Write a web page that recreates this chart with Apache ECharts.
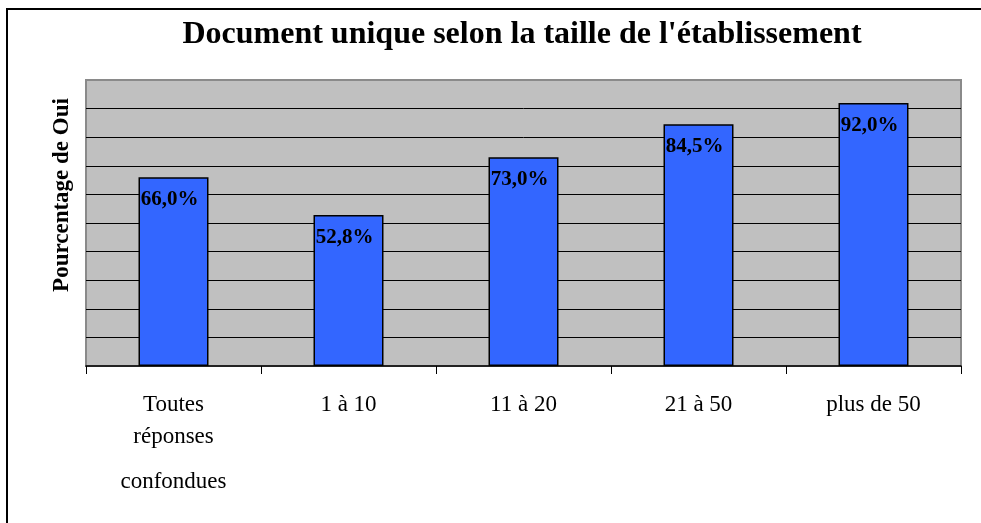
<!DOCTYPE html>
<html>
<head>
<meta charset="utf-8">
<script src="https://cdn.jsdelivr.net/npm/echarts@6/dist/echarts.min.js"></script>
<style>
html,body{margin:0;padding:0;background:#fff;}
#chart{width:981px;height:523px;}
</style>
</head>
<body>
<div id="chart"></div>
<script>
var titleText = "Document unique selon la taille de l'établissement";
var yAxisName = "Pourcentage de Oui";
var categories = ["Toutes\nréponses\nconfondues", "1 à 10", "11 à 20", "21 à 50", "plus de 50"];
var values = [66.0, 52.8, 73.0, 84.5, 92.0];

var serif = '"Liberation Serif", "Times New Roman", "DejaVu Serif", serif';
var chart = echarts.init(document.getElementById('chart'));
chart.setOption({
  backgroundColor: '#ffffff',
  animation: false,
  title: {
    text: titleText,
    left: 517,
    textAlign: 'center',
    top: 14,
    textStyle: { fontFamily: serif, fontWeight: 'bold', fontSize: 32, color: '#000' }
  },
  graphic: [{
    type: 'rect',
    shape: { x: 7, y: 9, width: 1100, height: 700 },
    style: { fill: 'none', stroke: '#000', lineWidth: 2 },
    silent: true,
    z: -1
  }, {
    type: 'text',
    x: 62,
    y: 195,
    rotation: Math.PI / 2,
    style: {
      text: yAxisName,
      fontFamily: serif,
      fontWeight: 'bold',
      fontSize: 23,
      fill: '#000',
      align: 'center',
      verticalAlign: 'middle'
    },
    silent: true
  }],
  grid: {
    left: 86, top: 80, right: 20, bottom: 157,
    show: true,
    backgroundColor: '#C0C0C0',
    borderColor: '#8a8a8a',
    borderWidth: 2
  },
  xAxis: {
    type: 'category',
    data: categories,
    axisLine: { show: true, lineStyle: { color: '#000', width: 1.5 } },
    axisTick: { show: true, length: 8, lineStyle: { color: '#000' } },
    axisLabel: {
      margin: 23,
      interval: 0,
      color: '#000',
      fontFamily: serif,
      fontSize: 23,
      formatter: function (v) {
        var parts = v.split('\n');
        var st = ['a', 'b', 'c'];
        return parts.map(function (p, i) { return '{' + st[i] + '|' + p + '}'; }).join('\n');
      },
      rich: {
        a: { fontFamily: serif, fontSize: 23, color: '#000', lineHeight: 32 },
        b: { fontFamily: serif, fontSize: 23, color: '#000', lineHeight: 32 },
        c: { fontFamily: serif, fontSize: 23, color: '#000', lineHeight: 58 }
      }
    }
  },
  yAxis: {
    type: 'value',
    min: 0, max: 100, interval: 10,
    axisLine: { show: false },
    axisTick: { show: false },
    axisLabel: { show: false },
    splitLine: { show: true, showMaxLine: false, showMinLine: false, lineStyle: { color: '#000', width: 1 } }
  },
  series: [{
    type: 'bar',
    data: values,
    barWidth: '40%',
    itemStyle: { color: '#3366FF', borderColor: '#000', borderWidth: 1.5 },
    label: {
      show: true,
      position: 'insideTop',
      distance: 12,
      offset: [-4, 0],
      fontFamily: serif,
      fontWeight: 'bold',
      fontSize: 21,
      color: '#000',
      formatter: function (p) { return p.value.toFixed(1).replace('.', ',') + '%'; }
    }
  }]
});
</script>
</body>
</html>
